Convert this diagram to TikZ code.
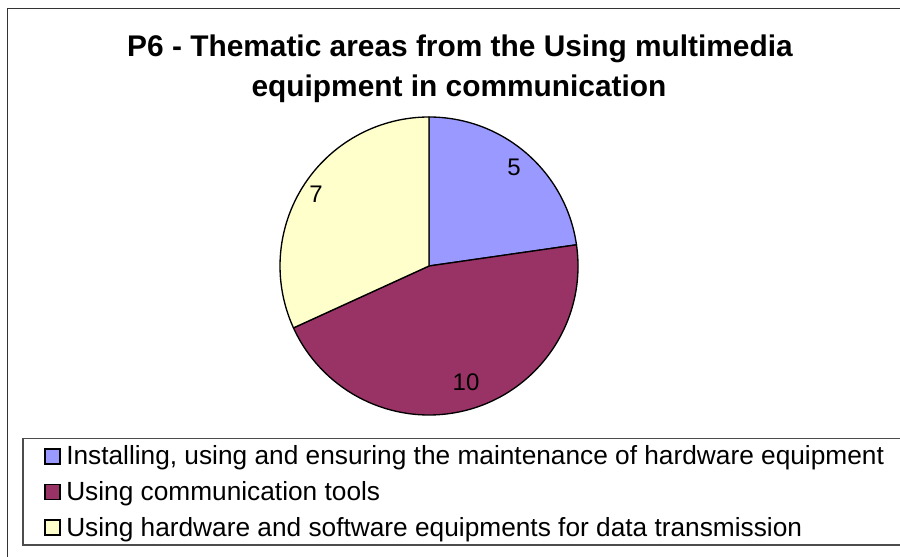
\documentclass[tikz,border=0pt]{standalone}
\usepackage{fontspec}
\setmainfont{Liberation Sans}
\definecolor{sliceblue}{HTML}{9999FF}
\definecolor{slicemaroon}{HTML}{993366}
\definecolor{sliceyellow}{HTML}{FFFFCC}
\definecolor{framegray}{HTML}{333333}
\begin{document}
\begin{tikzpicture}[x=0.75pt,y=0.75pt,
  slice/.style={draw=black,line width=1pt,line join=round},
  titletext/.style={font=\fontsize{22.4}{24}\selectfont\bfseries,anchor=base,inner sep=0pt},
  valuetext/.style={font=\fontsize{18}{20}\selectfont,inner sep=0pt},
  keybox/.style={draw=black,line width=1.1pt,minimum width=11.25pt,minimum height=11.25pt,inner sep=0pt},
  keytext/.style={font=\fontsize{19.7}{21}\selectfont,anchor=base west,inner sep=0pt}]
\useasboundingbox (0,0) rectangle (900,557);
\clip (0,0) rectangle (900,557);
\fill[white] (0,0) rectangle (900,557);
% chart area frame (runs off the right and bottom)
\draw[framegray,line width=1.1pt] (7.5,-20) -- (7.5,548.5) -- (920,548.5);
% title
\node[titletext] (title1) at (460,500) {P6 - Thematic areas from the Using multimedia};
\node[titletext] (title2) at (459,460) {equipment in communication};
% pie slices: 5, 10, 7 out of 22
\coordinate (c) at (429,291);
\filldraw[slice,fill=sliceblue] (c) -- ++(90:149) arc[start angle=90,end angle=8.1818,radius=149] -- cycle;
\filldraw[slice,fill=slicemaroon] (c) -- ++(8.1818:149) arc[start angle=8.1818,end angle=-155.4545,radius=149] -- cycle;
\filldraw[slice,fill=sliceyellow] (c) -- ++(-155.4545:149) arc[start angle=-155.4545,end angle=-270,radius=149] -- cycle;
% slice values
\node[valuetext] (v5) at (514,390) {5};
\node[valuetext] (v10) at (466,175) {10};
\node[valuetext] (v7) at (316,363) {7};
% legend
\draw[black!70,line width=0.9pt] (23,118.5) rectangle (920,12);
\node[keybox,fill=sliceblue] (k1) at (52.5,100.5) {};
\node[keybox,fill=slicemaroon] (k2) at (52.5,65) {};
\node[keybox,fill=sliceyellow] (k3) at (52.5,29.5) {};
\node[keytext] (t1) at (66,92) {Installing, using and ensuring the maintenance of hardware equipment};
\node[keytext] (t2) at (66,56) {Using communication tools};
\node[keytext] (t3) at (66,20) {Using hardware and software equipments for data transmission};
\end{tikzpicture}
\end{document}
